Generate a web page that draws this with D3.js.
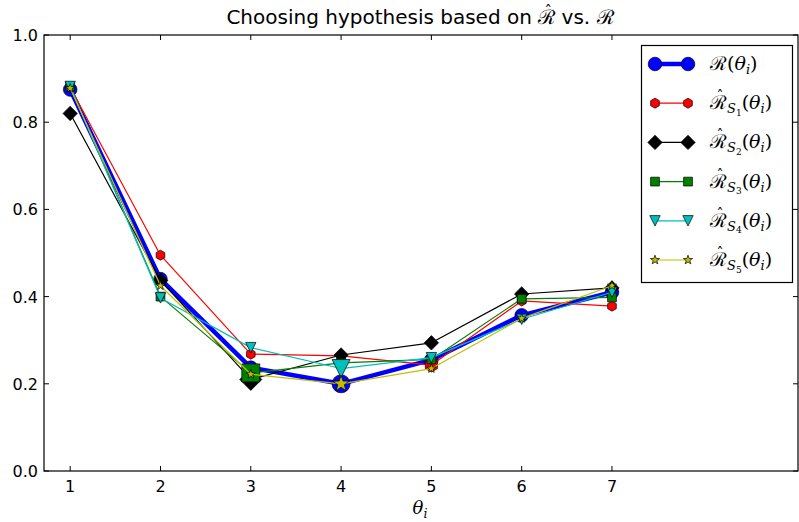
<!DOCTYPE html>
<html>
<head>
<meta charset="utf-8">
<title>Choosing hypothesis</title>
<script src="https://d3js.org/d3.v7.min.js"></script>
<style>
body { margin: 0; background: #fff; }
text { font-family: "DejaVu Sans", sans-serif; fill: #000; }
.math { font-family: "DejaVu Serif", serif; }
</style>
</head>
<body>
<svg id="chart" width="799" height="522"></svg>
<script>
// values
var thetas = [1, 2, 3, 4, 5, 6, 7];
var riskTrue = [0.875, 0.44, 0.237, 0.2, 0.255, 0.357, 0.41];
var riskS1 = [0.88, 0.495, 0.268, 0.264, 0.243, 0.39, 0.378];
var riskS2 = [0.82, 0.437, 0.21, 0.266, 0.294, 0.406, 0.42];
var riskS3 = [0.882, 0.4, 0.225, 0.248, 0.256, 0.395, 0.398];
var riskS4 = [0.882, 0.397, 0.283, 0.235, 0.26, 0.348, 0.41];
var riskS5 = [0.878, 0.425, 0.222, 0.2, 0.235, 0.35, 0.425];
var xTicks = [1, 2, 3, 4, 5, 6, 7];
var yTicks = [0, 0.2, 0.4, 0.6, 0.8, 1.0];

var svg = d3.select("#chart");
var x = d3.scaleLinear().domain([0.71, 9.06]).range([44, 798]);
var y = d3.scaleLinear().domain([0, 1]).range([471, 35]);

// marker shapes like matplotlib's o, h, D, s, v, *
function poly(pts) {
  return { draw: function(ctx, size) {
    var r = Math.sqrt(size);
    pts.forEach(function(p, i) {
      if (i == 0) ctx.moveTo(p[0] * r, p[1] * r); else ctx.lineTo(p[0] * r, p[1] * r);
    });
    ctx.closePath();
  }};
}
var circle = { draw: function(ctx, size) { var r = Math.sqrt(size); ctx.moveTo(r, 0); ctx.arc(0, 0, r, 0, 2 * Math.PI); } };
var hexPts = d3.range(6).map(function(k) { var a = (-90 + 60 * k) * Math.PI / 180; return [Math.cos(a), Math.sin(a)]; });
var starPts = d3.range(10).map(function(k) { var a = (-90 + 36 * k) * Math.PI / 180, rr = k % 2 ? 0.4 : 1; return [rr * Math.cos(a), rr * Math.sin(a)]; });

var series = [
  { values: riskTrue, color: "#0000ff", width: 4.5, shape: circle, r: 6.8, big: 9, sub: null },
  { values: riskS1, color: "#ff0000", width: 1.2, shape: poly(hexPts), r: 5, big: 7, sub: "1" },
  { values: riskS2, color: "#000000", width: 1.2, shape: poly([[0,-1],[1,0],[0,1],[-1,0]]), r: 7.2, big: 11, sub: "2" },
  { values: riskS3, color: "#008000", width: 1.2, shape: poly([[-1,-1],[1,-1],[1,1],[-1,1]]), r: 4.4, big: 9, sub: "3" },
  { values: riskS4, color: "#00bfbf", width: 1.2, shape: poly([[0,1],[-1,-1],[1,-1]]), r: 5.2, big: 9, sub: "4" },
  { values: riskS5, color: "#bfbf00", width: 1.2, shape: poly(starPts), r: 4.8, big: 8.5, sub: "5" }
];

// frame and inward ticks on all sides
svg.append("rect").attr("x", 44).attr("y", 35).attr("width", 754).attr("height", 436)
  .attr("fill", "none").attr("stroke", "#000").attr("stroke-width", 1.2);

xTicks.forEach(function(t) {
  svg.append("line").attr("x1", x(t)).attr("x2", x(t)).attr("y1", 471).attr("y2", 466).attr("stroke", "#000");
  svg.append("line").attr("x1", x(t)).attr("x2", x(t)).attr("y1", 35).attr("y2", 40).attr("stroke", "#000");
  svg.append("text").attr("x", x(t)).attr("y", 492).attr("text-anchor", "middle").attr("font-size", 16).text(t);
});
yTicks.forEach(function(t) {
  svg.append("line").attr("x1", 44).attr("x2", 49).attr("y1", y(t)).attr("y2", y(t)).attr("stroke", "#000");
  svg.append("line").attr("x1", 798).attr("x2", 793).attr("y1", y(t)).attr("y2", y(t)).attr("stroke", "#000");
  svg.append("text").attr("x", 38).attr("y", y(t) + 6).attr("text-anchor", "end").attr("font-size", 16).text(d3.format(".1f")(t));
});

var line = d3.line().x(function(d, i) { return x(thetas[i]); }).y(function(d) { return y(d); });

series.forEach(function(s) {
  var best = d3.minIndex(s.values);
  svg.append("path").attr("d", line(s.values)).attr("fill", "none")
    .attr("stroke", s.color).attr("stroke-width", s.width).attr("stroke-linejoin", "round");
  svg.selectAll(null).data(s.values).enter().append("path")
    .attr("transform", function(d, i) { return "translate(" + x(thetas[i]) + "," + y(d) + ")"; })
    .attr("d", function(d, i) { var r = i == best ? s.big : s.r; return d3.symbol().type(s.shape).size(r * r)(); })
    .attr("fill", s.color).attr("stroke", "#000").attr("stroke-width", 0.7);
});

// R with a hat, inside the same text element; the next tspan brings the pen back
function hatR(t, hatSize, lift, after, afterDy) {
  var r = t.append("tspan").attr("class", "math").text("\u211B");
  var w = r.node().getComputedTextLength();
  var h = t.append("tspan").attr("class", "math").attr("font-size", hatSize).text("\u02C6");
  var hw = h.node().getComputedTextLength();
  h.attr("dx", -(w + hw) / 2 + 1.5).attr("dy", -lift);
  return t.append("tspan").attr("dx", (w - hw) / 2 - 1.5).attr("dy", lift + (afterDy || 0)).text(after);
}

// title
var title = svg.append("text").attr("x", 420).attr("y", 24).attr("text-anchor", "middle").attr("font-size", 20);
title.append("tspan").text("Choosing hypothesis based on ");
hatR(title, 15, 8, " vs. ");
title.append("tspan").attr("class", "math").text("\u211B");

// x label
var xl = svg.append("text").attr("class", "math").attr("x", 420).attr("y", 514).attr("text-anchor", "middle").attr("font-size", 18);
xl.append("tspan").attr("font-style", "italic").text("\u03B8");
xl.append("tspan").attr("font-style", "italic").attr("font-size", 12.5).attr("dy", 4).text("i");

// legend
var lg = svg.append("g");
lg.append("rect").attr("x", 641.5).attr("y", 45.5).attr("width", 151).attr("height", 237)
  .attr("fill", "#fff").attr("stroke", "#000").attr("stroke-width", 1.2);
series.forEach(function(s, k) {
  var cy = 64 + k * 39.2;
  lg.append("line").attr("x1", 655).attr("x2", 688).attr("y1", cy).attr("y2", cy)
    .attr("stroke", s.color).attr("stroke-width", s.width);
  [655, 688].forEach(function(cx) {
    lg.append("path").attr("transform", "translate(" + cx + "," + cy + ")")
      .attr("d", d3.symbol().type(s.shape).size(s.r * s.r)())
      .attr("fill", s.color).attr("stroke", "#000").attr("stroke-width", 0.7);
  });
  var t = lg.append("text").attr("class", "math").attr("x", 710).attr("y", cy + 6).attr("font-size", 19);
  if (s.sub) {
    hatR(t, 14, 8, "S", 4).attr("font-style", "italic").attr("font-size", 13);
    t.append("tspan").attr("font-size", 9).attr("dy", 2.5).text(s.sub);
    t.append("tspan").attr("dy", -6.5).text("(");
  } else {
    t.append("tspan").text("\u211B(");
  }
  t.append("tspan").attr("font-style", "italic").text("\u03B8");
  t.append("tspan").attr("font-style", "italic").attr("font-size", 13).attr("dy", 4).text("i");
  t.append("tspan").attr("dy", -4).text(")");
});
</script>
</body>
</html>
